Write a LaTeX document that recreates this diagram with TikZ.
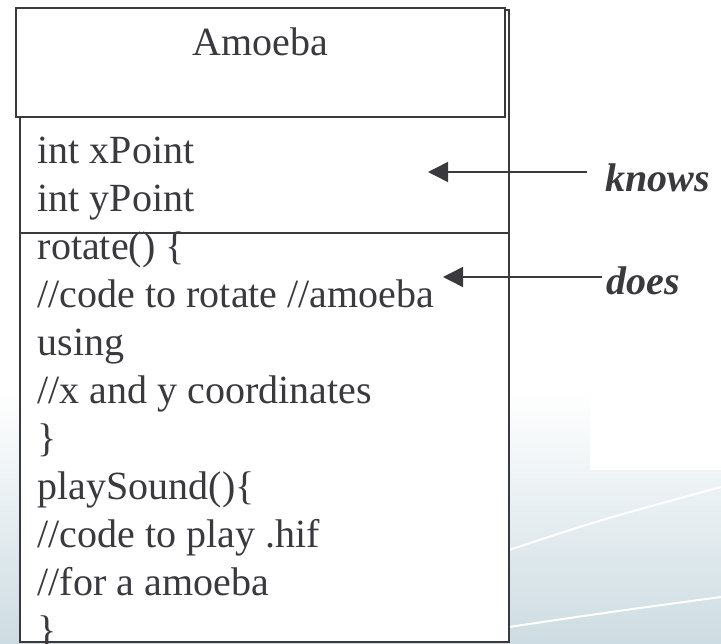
\documentclass[tikz,border=0pt]{standalone}
\usepackage{fontspec}
\setmainfont{Liberation Serif}
\usepackage{tikz}
\usetikzlibrary{positioning, arrows.meta}
\definecolor{inkgray}{RGB}{58,58,62}
\definecolor{slidebg}{RGB}{205,220,226}

\tikzset{
  codeline/.style={anchor=base west, inner sep=0pt, text=inkgray,
    font=\fontsize{40}{48}\selectfont},
  tag/.style={anchor=base west, inner ysep=0pt, text=inkgray,
    font=\fontsize{40}{48}\selectfont\bfseries\itshape},
  classbox/.style={draw=inkgray, fill=white, inner sep=0pt, minimum width=489pt},
  pointer/.style={-{Triangle[length=20pt, width=20pt]}, draw=inkgray}
}

\begin{document}
\begin{tikzpicture}[x=1pt, y=-1pt, node distance=47.9pt, line width=1.5pt]
  \useasboundingbox (0,0) rectangle (721,644);
  % Slide background
  \fill[white] (0,0) rectangle (721,644);
  \shade[top color=white, bottom color=slidebg] (0,390) rectangle (721,644);
  \fill[white] (590,280) rectangle (721,470);
  \draw[white, line width=2pt] (509,550) .. controls (600,520) .. (721,487);
  \draw[white, line width=2pt] (509,627) .. controls (610,612) .. (721,597);
  % Class boxes
  \node[classbox, minimum height=632pt] (body) at (264.5,326) {};
  \node[classbox, minimum height=109pt] (head) at (260.5,62.5) {};
  \node[codeline, anchor=base] (cname) at (260.5,56) {Amoeba};
  \draw[inkgray] (body.west |- 0,233) -- (body.east |- 0,233);
  % Fields
  \node[codeline] (a1) at (37,164) {int xPoint};
  \node[below=of a1.base west, codeline] (a2) {int yPoint};
  % Methods
  \node[below=of a2.base west, codeline] (m1) {rotate() \{};
  \node[below=of m1.base west, codeline] (m2) {//code to rotate //amoeba};
  \node[below=of m2.base west, codeline] (m3) {using};
  \node[below=of m3.base west, codeline] (m4) {//x and y coordinates};
  \node[below=of m4.base west, codeline] (m5) {\}};
  \node[below=of m5.base west, codeline] (m6) {playSound()\{};
  \node[below=of m6.base west, codeline] (m7) {//code to play .hif};
  \node[below=of m7.base west, codeline] (m8) {//for a amoeba};
  \node[below=of m8.base west, codeline] (m9) {\}};
  % Labels and pointers
  \node[tag, inner xsep=18pt] (knows) at (587,192) {knows};
  \node[tag, inner xsep=4pt] (does) at (602,295) {does};
  \coordinate (kt) at (428,172);
  \coordinate (dt) at (443,277);
  \draw[pointer] (knows.west |- kt) -- (kt);
  \draw[pointer] (does.west |- dt) -- (dt);
\end{tikzpicture}
\end{document}
